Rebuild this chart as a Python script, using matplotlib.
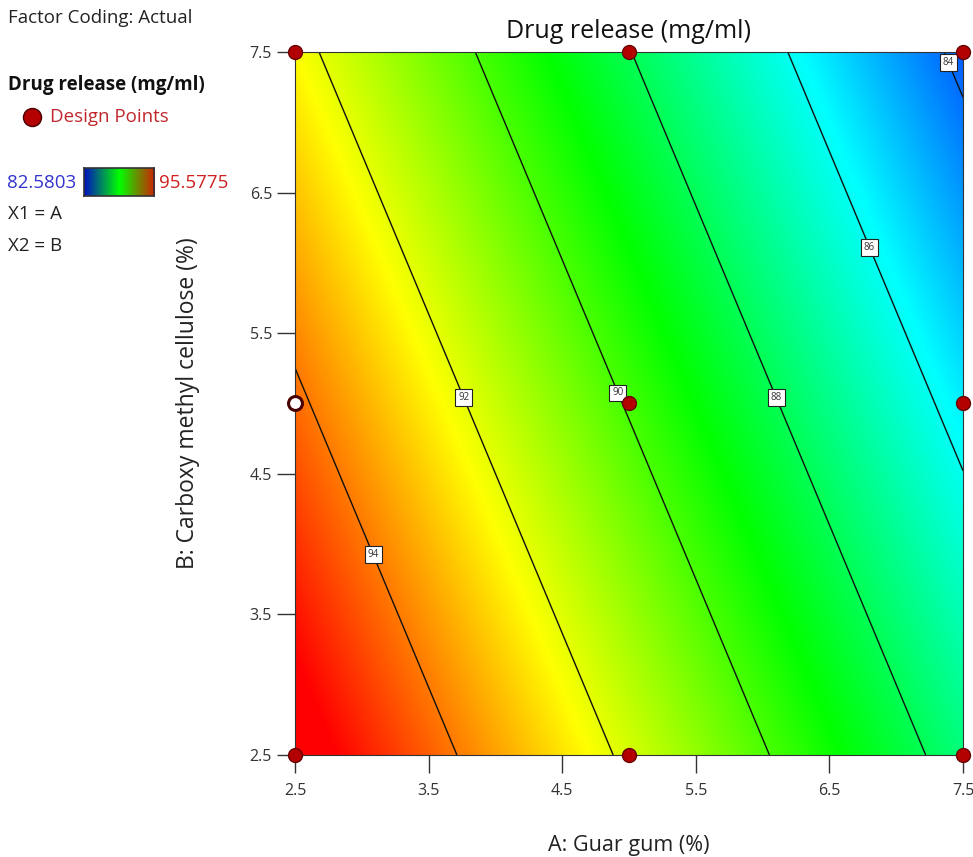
import numpy as np
import matplotlib
matplotlib.use("Agg")
import matplotlib.pyplot as plt
from matplotlib.colors import LinearSegmentedColormap, Normalize

plt.rcParams['font.family'] = ['Open Sans', 'DejaVu Sans']

# ---- data ----
intercept = 102.23      # fitted linear surface: Y = b0 + bA*A + bB*B
coef_A = -1.71
coef_B = -0.753
a_range = [2.5, 7.5]
b_range = [2.5, 7.5]
levels = [84, 86, 88, 90, 92, 94]
label_pos = [(7.40, 7.43), (6.82, 6.12), (6.12, 5.05), (4.93, 5.08), (3.78, 5.05), (3.10, 3.93)]
design_A = [2.5, 5.0, 7.5, 5.0, 7.5, 2.5, 5.0, 7.5]
design_B = [7.5, 7.5, 7.5, 5.0, 5.0, 2.5, 2.5, 2.5]
hollow_A = [2.5]
hollow_B = [5.0]
y_min = 82.5803
y_max = 95.5775
ticks = [2.5, 3.5, 4.5, 5.5, 6.5, 7.5]
tick_labels = ['2.5', '3.5', '4.5', '5.5', '6.5', '7.5']

cmap = LinearSegmentedColormap.from_list(
    'de', [(0, '#0000ff'), (0.25, '#00ffff'), (0.5, '#00ff00'), (0.75, '#ffff00'), (1, '#ff0000')])
norm = Normalize(vmin=y_min, vmax=y_max)

fig = plt.figure(figsize=(9.73, 8.57), dpi=100)
ax = fig.add_axes([295/973, 1-755/857, 668/973, 703/857])

a = np.linspace(a_range[0], a_range[1], 400)
b = np.linspace(b_range[0], b_range[1], 400)
AA, BB = np.meshgrid(a, b)
Z = intercept + coef_A*AA + coef_B*BB

ax.imshow(Z, origin='lower', extent=[a_range[0], a_range[1], b_range[0], b_range[1]],
          cmap=cmap, norm=norm, aspect='auto', interpolation='bilinear')
cs = ax.contour(AA, BB, Z, levels=levels, colors='#111111', linewidths=1.0)
txts = ax.clabel(cs, levels=levels, inline=False, fontsize=7, fmt='%d', manual=label_pos)
for t in txts:
    t.set_bbox(dict(boxstyle='square,pad=0.3', facecolor='white', edgecolor='#222222', linewidth=0.8))
    t.set_rotation(0)
    t.set_color('#333333')
    t.set_zorder(5)

ax.plot(design_A, design_B, 'o', ms=10, mfc='#b30000', mec='#6a0000', mew=1, clip_on=False, zorder=6)
ax.plot(hollow_A, hollow_B, 'o', ms=10, mfc='white', mec='#4a0000', mew=2.2, clip_on=False, zorder=6)

ax.set_xlim(a_range)
ax.set_ylim(b_range)
ax.set_xticks(ticks)
ax.set_xticklabels(tick_labels)
ax.set_yticks(ticks)
ax.set_yticklabels(tick_labels)
ax.tick_params(axis='x', direction='out', length=13, width=1, pad=7, labelsize=11.5, colors='#333333')
ax.tick_params(axis='y', direction='out', length=13, width=1, pad=3.5, labelsize=11.5, colors='#333333')
for s in ax.spines.values():
    s.set_color('#333333')
    s.set_linewidth(0.8)

ax.set_title('Drug release (mg/ml)', fontsize=18, color='#111111', pad=10)
ax.set_xlabel('A: Guar gum (%)', fontsize=15.5, color='#222222', labelpad=26)
ax.set_ylabel('B: Carboxy methyl cellulose (%)', fontsize=16.5, color='#222222', labelpad=36)

# left-side legend texts
def fy(py):
    return 1 - py/857
fs = 13.5
fig.text(8/973, fy(18), 'Factor Coding: Actual', fontsize=fs, color='#222222', va='center')
fig.text(8/973, fy(85), 'Drug release (mg/ml)', fontsize=fs, fontweight='bold', color='#111111', va='center')
fig.lines.append(plt.Line2D([32/973], [fy(117)], marker='o', ms=13, mfc='#b30000', mec='#4a0000',
                            transform=fig.transFigure, figure=fig))
fig.text(50/973, fy(117), 'Design Points', fontsize=fs, color='#c0282d', va='center')
fig.text(7/973, fy(183), '82.5803', fontsize=fs, color='#3333cc', va='center')
fig.text(159/973, fy(183), '95.5775', fontsize=fs, color='#d02020', va='center')
fig.text(8/973, fy(214), 'X1 = A', fontsize=fs, color='#222222', va='center')
fig.text(8/973, fy(246), 'X2 = B', fontsize=fs, color='#222222', va='center')

cax = fig.add_axes([84/973, fy(196), 70/973, 28/857])
grad_cmap = LinearSegmentedColormap.from_list('g', ['#0010c0', '#00ff00', '#d02000'])
cax.imshow(np.linspace(0, 1, 200)[None, :], cmap=grad_cmap, aspect='auto')
cax.set_xticks([])
cax.set_yticks([])
for s in cax.spines.values():
    s.set_color('#333333')
    s.set_linewidth(1.2)

fig.savefig('out.png', dpi=100, facecolor='white')
